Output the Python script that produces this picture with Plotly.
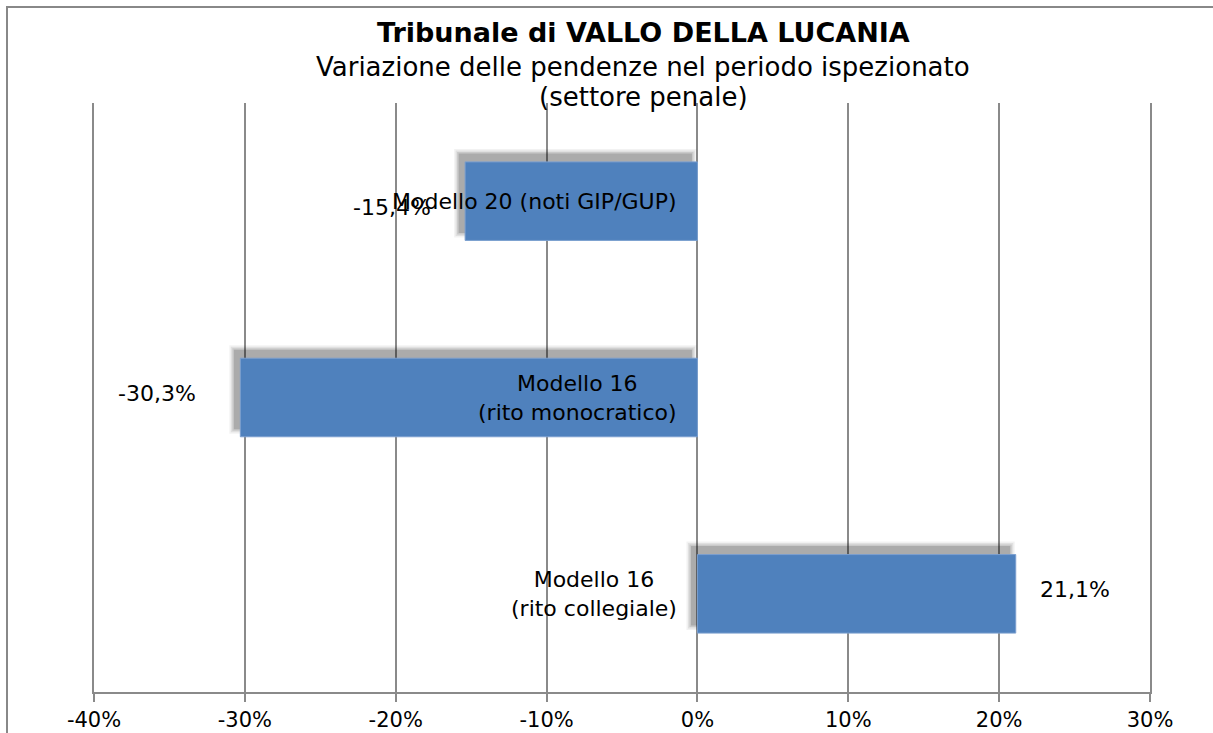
import plotly.graph_objects as go

categories = ["Modello 20 (noti GIP/GUP)", "Modello 16<br>(rito monocratico)", "Modello 16<br>(rito collegiale)"]
values = [-15.4, -30.3, 21.1]
value_labels = ["-15,4%", "-30,3%", "21,1%"]
tick_vals = [-40, -30, -20, -10, 0, 10, 20, 30]
tick_text = ["-40%", "-30%", "-20%", "-10%", "0%", "10%", "20%", "30%"]
title_lines = ["<b>Tribunale di VALLO DELLA LUCANIA</b>",
               "Variazione delle pendenze nel periodo ispezionato",
               "(settore penale)"]

FONT = "DejaVu Sans"
BAR = "#4F81BD"
GRID = "#8a8a8a"
PX_X = 1056 / 70.0      # pixels per percentage point
PX_Y = 589 / 3.0        # pixels per category

fig = go.Figure()

# blurred drop shadow (offset up-left), built from soft nested layers
for e, op in [(5, 0.05), (3.5, 0.07), (2, 0.10), (0.5, 0.15)]:
    ex = e / PX_X
    w = 0.4 + 2 * e / PX_Y
    fig.add_trace(go.Bar(
        y=categories,
        x=[abs(v) + 2 * ex for v in values],
        base=[min(v, 0) - 6 / PX_X - ex for v in values],
        orientation="h", width=w, offset=-w / 2 - 8 / PX_Y,
        marker=dict(color=f"rgba(0,0,0,{op})", line=dict(width=0)),
        hoverinfo="skip", showlegend=False,
    ))

fig.add_trace(go.Bar(
    y=categories, x=values, orientation="h", width=0.4,
    marker=dict(color=BAR, line=dict(color="#7b9fcf", width=1)),
    showlegend=False,
))

annotations = []
for cat in categories:
    annotations.append(dict(
        x=0, y=cat, xref="x", yref="y", text=cat, showarrow=False,
        xanchor="right", yanchor="middle", xshift=-18, align="center",
        font=dict(family=FONT, size=22, color="#000"),
    ))
label_shift = [-73, -83, 59]
label_yshift = [-6, 4, 4]
for v, lab, cat, s, ys in zip(values, value_labels, categories, label_shift, label_yshift):
    annotations.append(dict(
        x=v, y=cat, xref="x", yref="y", text=lab, showarrow=False,
        xanchor="center", yanchor="middle", xshift=s, yshift=ys,
        font=dict(family=FONT, size=22, color="#000"),
    ))
for line, ys, sz in zip(title_lines, [71, 36, 6], [27, 26, 26]):
    annotations.append(dict(
        x=0.52, y=1, xref="paper", yref="paper", text=line, showarrow=False,
        xanchor="center", yanchor="middle", yshift=ys,
        font=dict(family=FONT, size=sz, color="#000"),
    ))

fig.update_layout(
    width=1213, height=733,
    margin=dict(l=94, r=63, t=103, b=41, autoexpand=False),
    paper_bgcolor="white", plot_bgcolor="white",
    barmode="overlay",
    xaxis=dict(
        range=[-40, 30], tickvals=tick_vals, ticktext=tick_text,
        showgrid=True, gridcolor=GRID, gridwidth=1.5, automargin=False,
        zeroline=False, showline=True, linecolor=GRID, linewidth=2,
        ticks="outside", ticklen=8, tickcolor=GRID, tickwidth=1.5,
        tickfont=dict(family=FONT, size=21, color="#000"),
    ),
    yaxis=dict(
        categoryorder="array", categoryarray=categories, autorange="reversed",
        showticklabels=False, showgrid=False, zeroline=False, automargin=False,
        showline=True, mirror=True, linecolor=GRID, linewidth=1.5,
    ),
    annotations=annotations,
    shapes=[dict(
        type="rect", xref="paper", yref="paper",
        x0=(7 - 94) / 1056, x1=1.3, y0=-0.3, y1=(692 - 7) / 589,
        line=dict(color="#888", width=2), layer="below",
    )],
)

fig.write_html("out.html", config={"displayModeBar": False},
               post_script="document.body.style.margin='0';")
